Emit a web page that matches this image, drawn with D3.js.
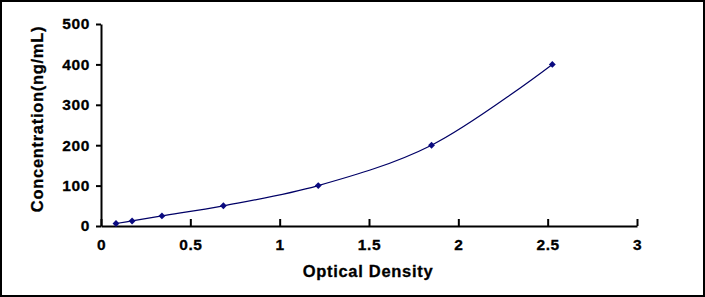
<!DOCTYPE html>
<html>
<head>
<meta charset="utf-8">
<script src="https://cdn.jsdelivr.net/npm/d3@7"></script>
<style>
  body { margin: 0; background: #fff; }
  svg { display: block; }
  .tick text { font-family: "Liberation Sans", Arial, sans-serif; font-weight: bold; font-size: 15.5px; letter-spacing: 0.6px; fill: #000; stroke: #000; stroke-width: 0.3px; }
  .title { font-family: "Liberation Sans", Arial, sans-serif; font-weight: bold; font-size: 16.5px; letter-spacing: 0.7px; fill: #000; stroke: #000; stroke-width: 0.3px; }
</style>
</head>
<body>
<div id="chart"></div>
<script>
// Data
const od = [0.084, 0.174, 0.341, 0.685, 1.216, 1.85, 2.526];
const conc = [6.25, 12.5, 25, 50, 100, 200, 400];
const xTicks = [0, 0.5, 1, 1.5, 2, 2.5, 3];
const yTicks = [0, 100, 200, 300, 400, 500];

const W = 705, H = 297;
const xLeft = 101, xRight = 637, yTop = 24, yBottom = 226;

const svg = d3.select("#chart").append("svg")
    .attr("width", W)
    .attr("height", H);

// Ram runt allt
svg.append("rect")
    .attr("x", 1).attr("y", 1)
    .attr("width", W - 2).attr("height", H - 2)
    .attr("fill", "#fff")
    .attr("stroke", "#000")
    .attr("stroke-width", 2);

const x = d3.scaleLinear().domain([0, 3]).range([xLeft, xRight]);
const y = d3.scaleLinear().domain([0, 500]).range([yBottom, yTop]);

// Axlar
const xAxis = svg.append("g")
    .attr("transform", `translate(0, ${yBottom})`)
    .call(d3.axisBottom(x).tickValues(xTicks).tickFormat(d3.format("")).tickSizeInner(-7).tickSizeOuter(0).tickPadding(13));

const yAxis = svg.append("g")
    .attr("transform", `translate(${xLeft}, 0)`)
    .call(d3.axisLeft(y).tickValues(yTicks).tickSizeInner(5).tickSizeOuter(0).tickPadding(6));

[xAxis, yAxis].forEach(g => {
    g.select(".domain").attr("stroke", "#000").attr("stroke-width", 2);
    g.selectAll(".tick line").attr("stroke", "#000").attr("stroke-width", 2);
});

// Titlar
svg.append("text")
    .attr("class", "title")
    .attr("x", 368).attr("y", 277)
    .attr("text-anchor", "middle")
    .text("Optical Density");

svg.append("text")
    .attr("class", "title")
    .attr("transform", "translate(43, 119) rotate(-90)")
    .attr("text-anchor", "middle")
    .text("Concentration(ng/mL)");

// Kurva
const pts = od.map((v, i) => ({ od: v, c: conc[i] }));
const line = d3.line()
    .x(d => x(d.od))
    .y(d => y(d.c))
    .curve(d3.curveCatmullRom.alpha(0.5));

svg.append("path")
    .datum(pts)
    .attr("fill", "none")
    .attr("stroke", "#000066")
    .attr("stroke-width", 1.2)
    .attr("d", line);

// Punkter
svg.selectAll(".pt")
    .data(pts)
    .join("path")
    .attr("class", "pt")
    .attr("transform", d => `translate(${x(d.od)}, ${y(d.c)})`)
    .attr("d", d3.symbol(d3.symbolDiamond2, 30))
    .attr("fill", "#0a0a80");
</script>
</body>
</html>
